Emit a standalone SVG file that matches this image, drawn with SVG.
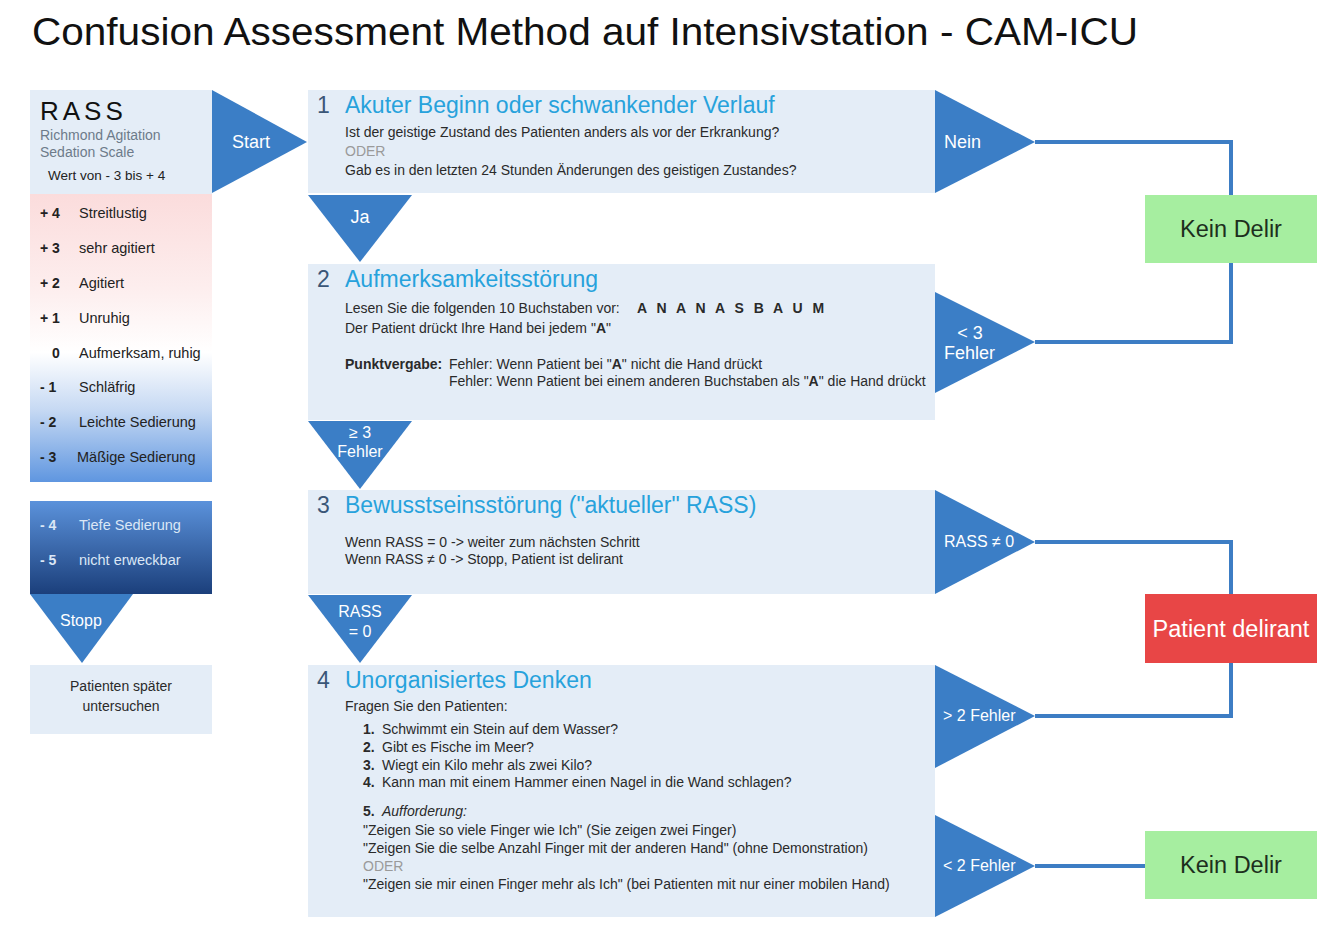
<svg xmlns="http://www.w3.org/2000/svg" width="1334" height="948" viewBox="0 0 1334 948">
<defs>
<linearGradient id="rassGrad" x1="0" y1="0" x2="0" y2="1">
<stop offset="0" stop-color="#fbdcdc"/>
<stop offset="0.33" stop-color="#fdeeee"/>
<stop offset="0.55" stop-color="#ffffff"/>
<stop offset="0.75" stop-color="#c6d9f3"/>
<stop offset="1" stop-color="#5f96e0"/>
</linearGradient>
<linearGradient id="deepGrad" x1="0" y1="0" x2="0" y2="1">
<stop offset="0" stop-color="#5b92db"/>
<stop offset="1" stop-color="#1b3f7b"/>
</linearGradient>
</defs>
<style>
text{font-family:"Liberation Sans",Arial,Helvetica,sans-serif;}
.box{fill:#e4edf7;}
.tri{fill:#3b7ec6;}
.tl{fill:#ffffff;font-size:18px;}
.tls{fill:#ffffff;font-size:16px;}
.num{fill:#3a5677;font-size:23px;}
.head{fill:#27a2dc;font-size:23px;}
.body{fill:#2a2a2a;font-size:14px;}
.oder{fill:#9a9a9a;font-size:14px;}
.b{font-weight:bold;}
.conn{fill:none;stroke:#3d7dc4;stroke-width:4;}
.rn{fill:#222;font-size:14px;font-weight:bold;}
.rl{fill:#222;font-size:14.5px;}
.dn{fill:#dbe7f6;font-size:14px;font-weight:bold;}
.dl{fill:#dbe7f6;font-size:14.5px;}
.res{font-size:23.5px;}
</style>
<rect width="1334" height="948" fill="#ffffff"/>
<text x="32" y="45" font-size="38" fill="#111111" textLength="1106" lengthAdjust="spacingAndGlyphs">Confusion Assessment Method auf Intensivstation - CAM-ICU</text>

<g id="connectors">
<polyline class="conn" points="1035,142 1231,142 1231,196"/>
<polyline class="conn" points="1231,262 1231,342 1035,342"/>
<polyline class="conn" points="1035,542 1231,542 1231,595"/>
<polyline class="conn" points="1231,662 1231,716 1035,716"/>
<line class="conn" x1="1035" y1="866" x2="1146" y2="866"/>
</g>

<g id="rass">
<rect class="box" x="30" y="90" width="182" height="104"/>
<text x="40" y="120" font-size="26" fill="#111" letter-spacing="4">RASS</text>
<text x="40" y="140" font-size="14" fill="#6d7b8a">Richmond Agitation</text>
<text x="40" y="157" font-size="14" fill="#6d7b8a">Sedation Scale</text>
<text x="48" y="180" font-size="13.5" fill="#222">Wert von - 3 bis + 4</text>
<rect x="30" y="194" width="182" height="288" fill="url(#rassGrad)"/>
<text class="rn" x="40" y="218">+ 4</text><text class="rl" x="79" y="218">Streitlustig</text>
<text class="rn" x="40" y="253">+ 3</text><text class="rl" x="79" y="253">sehr agitiert</text>
<text class="rn" x="40" y="288">+ 2</text><text class="rl" x="79" y="288">Agitiert</text>
<text class="rn" x="40" y="323">+ 1</text><text class="rl" x="79" y="323">Unruhig</text>
<text class="rn" x="52" y="358">0</text><text class="rl" x="79" y="358">Aufmerksam, ruhig</text>
<text class="rn" x="40" y="392">- 1</text><text class="rl" x="79" y="392">Schläfrig</text>
<text class="rn" x="40" y="427">- 2</text><text class="rl" x="79" y="427">Leichte Sedierung</text>
<text class="rn" x="40" y="462">- 3</text><text class="rl" x="77" y="462">Mäßige Sedierung</text>
</g>

<g id="deep">
<rect x="30" y="501" width="182" height="93" fill="url(#deepGrad)"/>
<text class="dn" x="40" y="530">- 4</text><text class="dl" x="79" y="530">Tiefe Sedierung</text>
<text class="dn" x="40" y="565">- 5</text><text class="dl" x="79" y="565">nicht erweckbar</text>
</g>

<g id="stopp">
<polygon class="tri" points="30,594 133,594 82,663"/>
<text class="tls" x="60" y="626">Stopp</text>
</g>

<g id="later">
<rect class="box" x="30" y="665" width="182" height="69"/>
<text class="body" x="121" y="691" text-anchor="middle">Patienten später</text>
<text class="body" x="121" y="711" text-anchor="middle">untersuchen</text>
</g>

<g id="start">
<polygon class="tri" points="212,90 212,193 307,142"/>
<text class="tl" x="232" y="148">Start</text>
</g>

<g id="step1">
<rect class="box" x="308" y="90" width="627" height="103"/>
<text class="num" x="317" y="113">1</text>
<text class="head" x="345" y="113">Akuter Beginn oder schwankender Verlauf</text>
<text class="body" x="345" y="137">Ist der geistige Zustand des Patienten anders als vor der Erkrankung?</text>
<text class="oder" x="345" y="156">ODER</text>
<text class="body" x="345" y="175">Gab es in den letzten 24 Stunden Änderungen des geistigen Zustandes?</text>
</g>

<g id="nein">
<polygon class="tri" points="935,90 935,193 1035,142"/>
<text class="tl" x="944" y="148">Nein</text>
</g>

<g id="ja">
<polygon class="tri" points="308,195 412,195 360,262"/>
<text class="tl" x="360" y="223" text-anchor="middle">Ja</text>
</g>

<g id="step2">
<rect class="box" x="308" y="264" width="627" height="156"/>
<text class="num" x="317" y="287">2</text>
<text class="head" x="345" y="287">Aufmerksamkeitsstörung</text>
<text class="body" x="345" y="313">Lesen Sie die folgenden 10 Buchstaben vor:</text>
<text class="body b" x="637" y="313" letter-spacing="3">A N A N A S B A U M</text>
<text class="body" x="345" y="333">Der Patient drückt Ihre Hand bei jedem "<tspan class="b">A</tspan>"</text>
<text class="body b" x="345" y="369">Punktvergabe:</text>
<text class="body" x="449" y="369">Fehler: Wenn Patient bei "<tspan class="b">A</tspan>" nicht die Hand drückt</text>
<text class="body" x="449" y="386">Fehler: Wenn Patient bei einem anderen Buchstaben als "<tspan class="b">A</tspan>" die Hand drückt</text>
</g>

<g id="lt3">
<polygon class="tri" points="935,292 935,393 1035,342"/>
<text class="tl" x="970" y="339" text-anchor="middle">&lt; 3</text>
<text class="tl" x="944" y="359">Fehler</text>
</g>

<g id="ge3">
<polygon class="tri" points="308,421 412,421 360,489"/>
<text class="tls" x="360" y="438" text-anchor="middle">≥ 3</text>
<text class="tls" x="360" y="457" text-anchor="middle">Fehler</text>
</g>

<g id="step3">
<rect class="box" x="308" y="490" width="627" height="104"/>
<text class="num" x="317" y="513">3</text>
<text class="head" x="345" y="513">Bewusstseinsstörung ("aktueller" RASS)</text>
<text class="body" x="345" y="547">Wenn RASS = 0 -&gt; weiter zum nächsten Schritt</text>
<text class="body" x="345" y="564">Wenn RASS ≠ 0 -&gt; Stopp, Patient ist delirant</text>
</g>

<g id="rassne0">
<polygon class="tri" points="935,490 935,594 1035,542"/>
<text class="tls" x="944" y="547">RASS ≠ 0</text>
</g>

<g id="rass0">
<polygon class="tri" points="308,595 412,595 360,663"/>
<text class="tls" x="360" y="617" text-anchor="middle">RASS</text>
<text class="tls" x="360" y="637" text-anchor="middle">= 0</text>
</g>

<g id="step4">
<rect class="box" x="308" y="665" width="627" height="252"/>
<text class="num" x="317" y="688">4</text>
<text class="head" x="345" y="688">Unorganisiertes Denken</text>
<text class="body" x="345" y="711">Fragen Sie den Patienten:</text>
<text class="body b" x="363" y="734">1.</text><text class="body" x="382" y="734">Schwimmt ein Stein auf dem Wasser?</text>
<text class="body b" x="363" y="752">2.</text><text class="body" x="382" y="752">Gibt es Fische im Meer?</text>
<text class="body b" x="363" y="770">3.</text><text class="body" x="382" y="770">Wiegt ein Kilo mehr als zwei Kilo?</text>
<text class="body b" x="363" y="787">4.</text><text class="body" x="382" y="787">Kann man mit einem Hammer einen Nagel in die Wand schlagen?</text>
<text class="body b" x="363" y="816">5.</text><text class="body" x="382" y="816" font-style="italic">Aufforderung:</text>
<text class="body" x="363" y="835">"Zeigen Sie so viele Finger wie Ich" (Sie zeigen zwei Finger)</text>
<text class="body" x="363" y="853">"Zeigen Sie die selbe Anzahl Finger mit der anderen Hand" (ohne Demonstration)</text>
<text class="oder" x="363" y="871">ODER</text>
<text class="body" x="363" y="889">"Zeigen sie mir einen Finger mehr als Ich" (bei Patienten mit nur einer mobilen Hand)</text>
</g>

<g id="gt2">
<polygon class="tri" points="935,665 935,768 1035,716"/>
<text class="tls" x="943" y="721">&gt; 2 Fehler</text>
</g>

<g id="lt2">
<polygon class="tri" points="935,815 935,917 1035,866"/>
<text class="tls" x="943" y="871">&lt; 2 Fehler</text>
</g>

<g id="keindelir1">
<rect x="1145" y="195" width="172" height="68" fill="#a6eea0"/>
<text class="res" x="1231" y="237" text-anchor="middle" fill="#1d2f1d">Kein Delir</text>
</g>

<g id="delirant">
<rect x="1145" y="594" width="172" height="69" fill="#e84646"/>
<text class="res" x="1231" y="637" text-anchor="middle" fill="#ffffff">Patient delirant</text>
</g>

<g id="keindelir2">
<rect x="1145" y="831" width="172" height="68" fill="#a6eea0"/>
<text class="res" x="1231" y="873" text-anchor="middle" fill="#1d2f1d">Kein Delir</text>
</g>
</svg>
